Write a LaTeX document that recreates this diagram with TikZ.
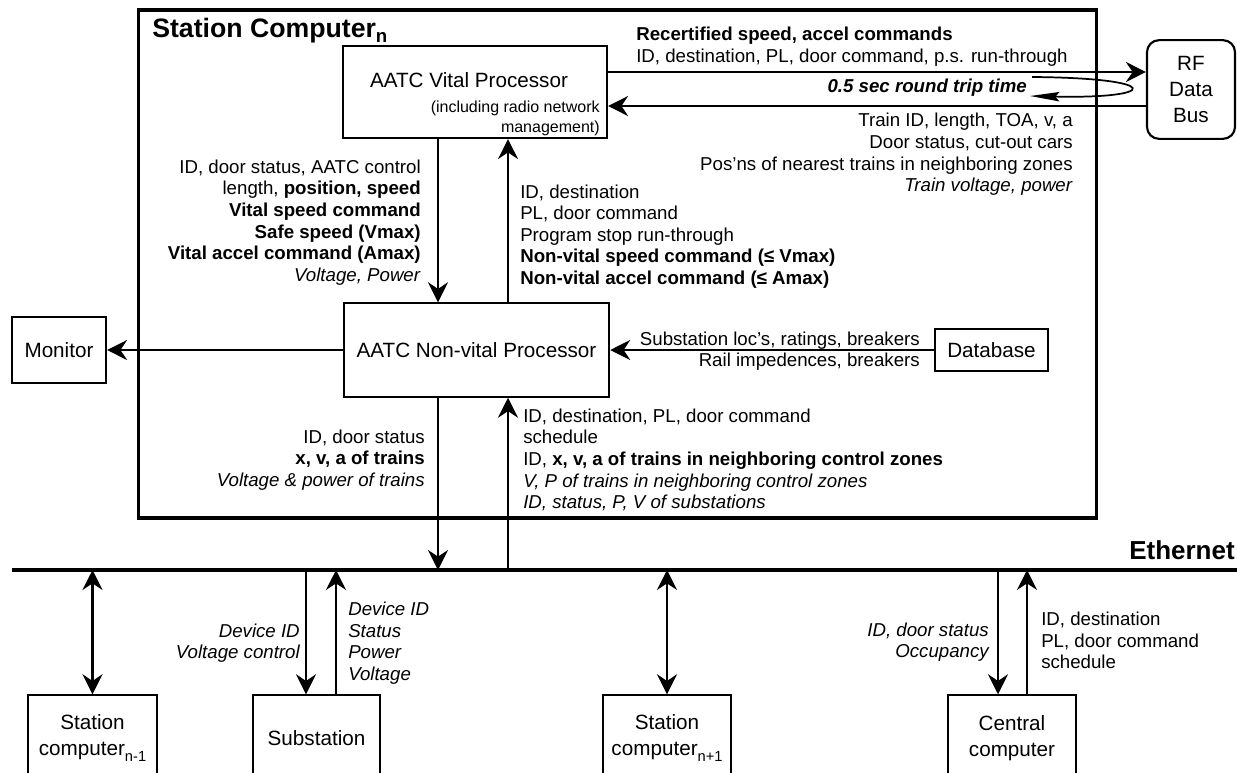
\documentclass[tikz,border=0pt]{standalone}
\usepackage{fontspec}
\setmainfont{Liberation Sans}
\usetikzlibrary{arrows.meta}
\newcommand{\lowsub}[2]{\raisebox{-4pt}{\fontsize{#1}{#1}\selectfont #2}}

\begin{document}
\begin{tikzpicture}[x=0.75pt,y=-0.75pt,
    box/.style={draw,line width=1.6pt,inner sep=0pt,align=center,
      font=\fontsize{15.5}{19.5}\selectfont},
    lbl/.style={inner sep=0pt,font=\fontsize{14}{16.2}\selectfont},
    arr/.style={line width=1.6pt,-{Stealth[length=15pt,width=15pt,inset=5pt]}},
    dbl/.style={line width=1.6pt,{Stealth[length=15pt,width=15pt,inset=5pt]}-{Stealth[length=15pt,width=15pt,inset=5pt]}}]
  \useasboundingbox (0,0) rectangle (1237,772);
  \draw
    (617.5,264) node[draw,line width=2.4pt,minimum width=719pt,minimum height=381pt] (station){}
    (152,37) node[anchor=base west,inner sep=0pt,font=\fontsize{20}{22}\selectfont\bfseries] (title){Station Computer\lowsub{14}{n}}
    (475,92) node[box,minimum width=198pt,minimum height=69pt] (vital){}
    (469,80) node[inner sep=0pt,font=\fontsize{15.5}{19.5}\selectfont] (vitaltext){AATC Vital Processor}
    (600,118) node[anchor=east,align=right,inner sep=0pt,font=\fontsize{12}{15}\selectfont] (vitalnote){(including radio network\\management)}
    (1191,89.5) node[box,rounded corners=9pt,minimum width=66pt,minimum height=74pt] (rf){RF\\Data\\Bus}
    (476.5,350) node[box,minimum width=199pt,minimum height=70pt] (nonvital){AATC Non-vital Processor}
    (59,350) node[box,minimum width=70.5pt,minimum height=49pt] (monitor){Monitor}
    (991.5,350) node[box,minimum width=85pt,minimum height=32pt] (database){Database}
    (92.5,738) node[box,minimum width=97pt,minimum height=64pt] (stnprev){Station\\computer\lowsub{11}{n-1}}
    (316.5,738) node[box,minimum width=95pt,minimum height=64pt] (substation){Substation}
    (667,738) node[box,minimum width=96pt,minimum height=64pt] (stnnext){Station\\computer\lowsub{11}{n+1}}
    (1012,738) node[box,minimum width=96pt,minimum height=64pt] (central){Central\\computer}
    (1235,559) node[anchor=base east,inner sep=0pt,font=\fontsize{19.5}{22}\selectfont\bfseries] (ethernet){Ethernet};
  \draw
    (636,46.5) node[lbl,anchor=west,align=left] (recert){\textbf{Recertified speed, accel commands}\\ID, destination, PL, door command, p.s. run-through}
    (1027,88) node[lbl,anchor=east,font=\fontsize{14}{16.2}\selectfont\bfseries\itshape] (roundtrip){0.5 sec round trip time}
    (1073,154.5) node[lbl,anchor=east,align=right] (trainid){Train ID, length, TOA, v, a\\Door status, cut-out cars\\Pos'ns of nearest trains in neighboring zones\\\textit{Train voltage, power}}
    (421,222.5) node[lbl,anchor=east,align=right] (vitaldown){ID, door status, AATC control\\length, \textbf{position, speed}\\\textbf{Vital speed command}\\\textbf{Safe speed (Vmax)}\\\textbf{Vital accel command (Amax)}\\\textit{Voltage, Power}}
    (520,236.5) node[lbl,anchor=west,align=left] (vitalup){ID, destination\\PL, door command\\Program stop run-through\\\textbf{Non-vital speed command (≤ Vmax)}\\\textbf{Non-vital accel command (≤ Amax)}}
    (920,351) node[lbl,anchor=east,align=right] (dbdata){Substation loc's, ratings, breakers\\Rail impedences, breakers}
    (425,460) node[lbl,anchor=east,align=right] (nvdown){ID, door status\\\textbf{x, v, a of trains}\\\textit{Voltage \& power of trains}}
    (523,460) node[lbl,anchor=west,align=left] (nvup){ID, destination, PL, door command\\schedule\\ID, \textbf{x, v, a of trains in neighboring control zones}\\\textit{V, P of trains in neighboring control zones}\\\textit{ID, status, P, V of substations}}
    (300,643) node[lbl,anchor=east,align=right,font=\fontsize{14}{16.2}\selectfont\itshape] (subdown){Device ID\\Voltage control}
    (348,643) node[lbl,anchor=west,align=left,font=\fontsize{14}{16.2}\selectfont\itshape] (subup){Device ID\\Status\\Power\\Voltage}
    (989,642) node[lbl,anchor=east,align=right,font=\fontsize{14}{16.2}\selectfont\itshape] (cendown){ID, door status\\Occupancy}
    (1041,640.5) node[lbl,anchor=west,align=left] (cenup){ID, destination\\PL, door command\\schedule};
  \coordinate (ethL) at (12,570);
  \coordinate (ethR) at (1237,570);
  \coordinate (eth) at (0,570);
  \coordinate (rfout) at (0,72);
  \coordinate (rfin) at (0,106);
  \coordinate (xdn) at (438,0);
  \coordinate (xup) at (508,0);
  \coordinate (sdn) at (306,0);
  \coordinate (sup) at (336,0);
  \coordinate (cdn) at (998,0);
  \coordinate (cup) at (1027,0);
  \coordinate (curlA) at (1032,77);
  \coordinate (curlB) at (1030,96);
  \draw[line width=3.2pt] (ethL) -- (ethR);
  \draw[line width=1.3pt,-{Stealth[length=22pt,width=7pt,inset=3pt]}] (curlA) .. controls (1165,78) and (1160,99) .. (curlB);
  \begin{scope}[arr]
    \draw (vital.east |- rfout) to (rf.west |- rfout);
    \draw (rf.west |- rfin) to (vital.east |- rfin);
    \draw (xdn |- vital.south) to (xdn |- nonvital.north);
    \draw (xup |- nonvital.north) to (xup |- vital.south);
    \draw (database.west) to (nonvital.east);
    \draw (nonvital.west) to (monitor.east);
    \draw (xdn |- nonvital.south) to (xdn |- eth);
    \draw (xup |- eth) to (xup |- nonvital.south);
    \draw (sdn |- eth) to (sdn |- substation.north);
    \draw (sup |- substation.north) to (sup |- eth);
    \draw (cdn |- eth) to (cdn |- central.north);
    \draw (cup |- central.north) to (cup |- eth);
  \end{scope}
  \begin{scope}[dbl]
    \draw (stnprev.north) to (stnprev.north |- eth);
    \draw (stnnext.north) to (stnnext.north |- eth);
  \end{scope}
\end{tikzpicture}
\end{document}
